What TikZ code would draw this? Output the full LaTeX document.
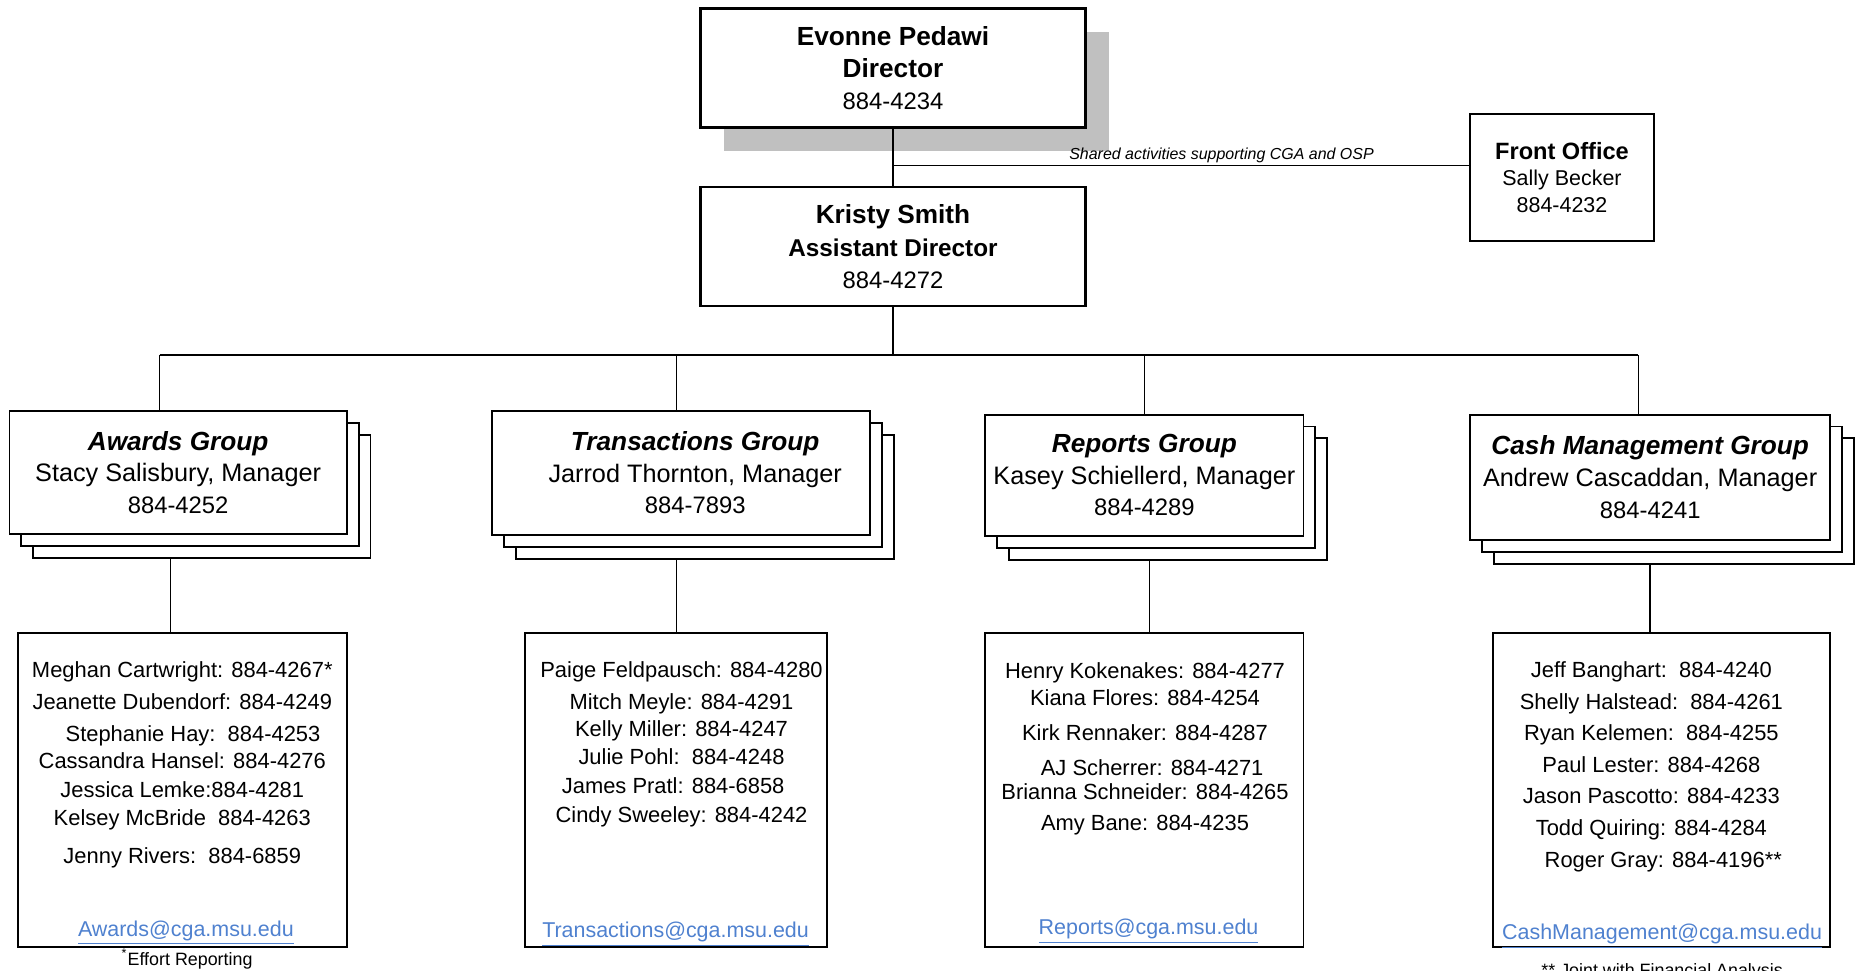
\documentclass[tikz,border=0pt]{standalone}
\usepackage{fontspec}
\setmainfont{Liberation Sans}
\usetikzlibrary{shadows}
\definecolor{shadowgray}{RGB}{192,192,192}
\definecolor{linkblue}{RGB}{79,129,207}

\begin{document}
\begin{tikzpicture}[x=0.5pt,y=-0.5pt,
    headbox/.style={draw,line width=1pt,fill=white,minimum width=161.5pt,minimum height=50pt,inner sep=1pt,align=center},
    groupbox/.style={draw,line width=0.8pt,fill=white,inner sep=1pt,align=center,font=\fontsize{10.6}{13.25}\selectfont,
        copy shadow={shadow xshift=10pt,shadow yshift=-10pt},
        copy shadow={shadow xshift=5pt,shadow yshift=-5pt}},
    staffbox/.style={draw,line width=0.8pt,minimum height=132pt},
    stafflist/.style={anchor=north,inner sep=0pt,align=center,font=\fontsize{9.2}{11}\selectfont},
    maillink/.style={inner sep=0pt,text=linkblue,font=\fontsize{9}{11}\selectfont},
    footnote/.style={inner sep=0pt,font=\fontsize{7.5}{9}\selectfont},
    link/.style={line width=0.6pt}]

\def\TITLE{\fontsize{11}{13.25}\selectfont\bfseries\itshape}
\def\PHONE{\fontsize{10}{13.5}\selectfont}

	\useasboundingbox (0,0) rectangle (1567,814.15);

	\node[headbox,font=\fontsize{11}{13.5}\selectfont,drop shadow={shadow xshift=10pt,shadow yshift=-10pt,fill=shadowgray,opacity=1}] (director) at (749.5,57) {\textbf{Evonne Pedawi}\\\textbf{Director}\\{\PHONE 884-4234}};
	\node[headbox,font=\fontsize{11}{13.75}\selectfont] (assistant) at (749.5,207) {\textbf{Kristy Smith}\\{\fontsize{10.2}{13.75}\selectfont\bfseries Assistant Director}\\{\PHONE 884-4272}};
	\node[draw,line width=0.8pt,minimum width=77pt,minimum height=53pt,inner sep=1pt,align=center,font=\fontsize{9}{11.25}\selectfont] (front) at (1311,149) {{\fontsize{9.9}{11.25}\selectfont\bfseries Front Office}\\Sally Becker\\884-4232};

	\node[groupbox,minimum width=141.5pt,minimum height=51.5pt] (awards) at (149.5,396.5) {{\TITLE Awards Group}\\Stacy Salisbury, Manager\\{\PHONE 884-4252}};
	\node[groupbox,minimum width=158.5pt,minimum height=52pt] (transactions) at (571.5,397) {\hspace*{12pt}{\TITLE Transactions Group}\\\hspace*{12pt}Jarrod Thornton, Manager\\\hspace*{12pt}{\PHONE 884-7893}};
	\node[groupbox,minimum width=133.5pt,minimum height=51pt] (reports) at (960.5,399) {{\TITLE Reports Group}\\Kasey Schiellerd, Manager\\{\PHONE 884-4289}};
	\node[groupbox,minimum width=151pt,minimum height=52.5pt] (cash) at (1385,400.5) {{\TITLE Cash Management Group}\\Andrew Cascaddan, Manager\\{\PHONE 884-4241}};

	\node[staffbox,minimum width=138pt] (awardsStaff) at (153,663) {};
	\node[staffbox,minimum width=126.5pt] (transactionsStaff) at (567.5,663) {};
	\node[staffbox,minimum width=133.5pt] (reportsStaff) at (960.5,663) {};
	\node[staffbox,minimum width=141.5pt] (cashStaff) at (1394.5,663) {};

	\node[stafflist] (awardsList) at (153,555) {Meghan Cartwright: 884-4267*\\[2.5pt]
		Jeanette Dubendorf: 884-4249\\[2.5pt]
		\hspace*{9pt}Stephanie Hay:\ \ 884-4253\\
		Cassandra Hansel: 884-4276\\[1.5pt]
		Jessica Lemke:884-4281\\[0.5pt]
		Kelsey McBride\ \ 884-4263\\[5pt]
		Jenny Rivers:\ \ 884-6859};
	\node[stafflist] (transactionsList) at (572,555) {Paige Feldpausch: 884-4280\\[2.5pt]
		Mitch Meyle: 884-4291\\
		Kelly Miller: 884-4247\\[1pt]
		Julie Pohl:\ \ 884-4248\\[1pt]
		\hspace*{-7pt}James Pratl: 884-6858\\[1.5pt]
		Cindy Sweeley: 884-4242};
	\node[stafflist] (reportsList) at (961,556) {Henry Kokenakes: 884-4277\\
		Kiana Flores: 884-4254\\[4pt]
		Kirk Rennaker: 884-4287\\[3.5pt]
		\hspace*{6pt}AJ Scherrer: 884-4271\\[-1pt]
		Brianna Schneider: 884-4265\\[2pt]
		Amy Bane: 884-4235};
	\node[stafflist] (cashList) at (1386,555) {Jeff Banghart:\ \ 884-4240\\[2.25pt]
		Shelly Halstead:\ \ 884-4261\\[2.25pt]
		Ryan Kelemen:\ \ 884-4255\\[2.25pt]
		Paul Lester: 884-4268\\[2.25pt]
		Jason Pascotto: 884-4233\\[2.25pt]
		Todd Quiring: 884-4284\\[2.25pt]
		\hspace*{10pt}Roger Gray: 884-4196**};

	\node[maillink] (awardsMail) at (156,783) {\underline{Awards@cga.msu.edu}};
	\node[maillink] (transactionsMail) at (567,784) {\underline{Transactions@cga.msu.edu}};
	\node[maillink] (reportsMail) at (964,782) {\underline{Reports@cga.msu.edu}};
	\node[maillink] (cashMail) at (1395,786) {\underline{CashManagement@cga.msu.edu}};

	\node[footnote] (effortNote) at (157,805) {\textsuperscript{*}Effort Reporting};
	\node[footnote] (jointNote) at (1395,816) {** Joint with Financial Analysis};

	\draw[link] (director.south) -- (assistant.north);
	\coordinate (shareJoint) at (749.5,139);
	\draw[line width=0.5pt] (shareJoint) -- node[pos=0.57,above=1pt,inner sep=0pt,font=\fontsize{6.7}{8}\selectfont\itshape] (shareLabel) {Shared activities supporting CGA and OSP} (shareJoint -| front.west);

	\coordinate (busLeft) at (134,298);
	\coordinate (busRight) at (1375,298);
	\coordinate (transactionsTap) at (568,298);
	\draw[link] (assistant.south) -- (assistant.south |- busLeft);
	\draw[line width=0.9pt] (busLeft) -- (busRight);
	\draw[link] (busLeft) -- (busLeft |- awards.north);
	\draw[link] (transactionsTap) -- (transactionsTap |- transactions.north);
	\draw[link] (reports.north |- busLeft) -- (reports.north);
	\draw[link] (busRight) -- (busRight |- cash.north);

	\coordinate (awardsDrop) at (143,469);
	\coordinate (transactionsDrop) at (568,470);
	\coordinate (reportsDrop) at (965,471);
	\coordinate (cashDrop) at (1385,473);
	\draw[link] (awardsDrop) -- (awardsDrop |- awardsStaff.north);
	\draw[link] (transactionsDrop) -- (transactionsDrop |- transactionsStaff.north);
	\draw[link] (reportsDrop) -- (reportsDrop |- reportsStaff.north);
	\draw[link] (cashDrop) -- (cashDrop |- cashStaff.north);

\end{tikzpicture}
\end{document}
